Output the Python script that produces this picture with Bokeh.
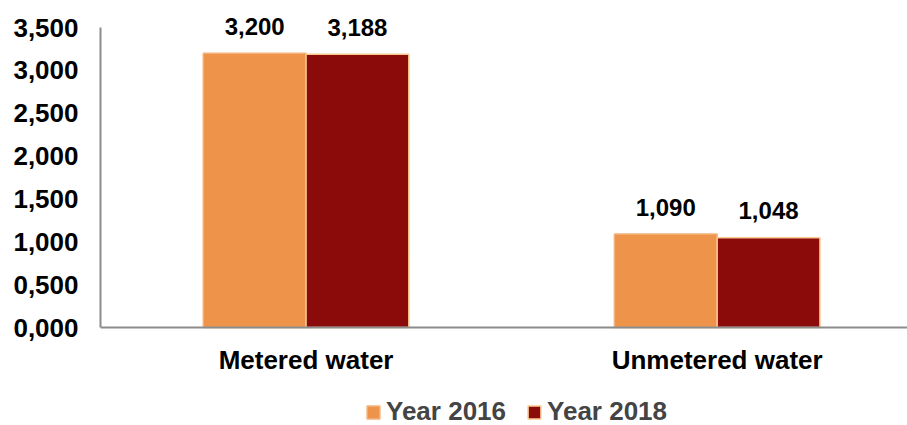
from bokeh.plotting import figure
from bokeh.models import Range1d, FixedTicker, CustomJSTickFormatter, ColumnDataSource, Legend, LegendItem, Span
from bokeh.core.properties import value
from bokeh.embed import file_html
from bokeh.resources import INLINE

categories = ["Metered water", "Unmetered water"]
series_names = ["Year 2016", "Year 2018"]
values_2016 = [3.200, 1.090]
values_2018 = [3.188, 1.048]
y_ticks = [0, 0.5, 1.0, 1.5, 2.0, 2.5, 3.0, 3.5]

FONT = "Liberation Sans"
COL_2016 = "#EE934A"
COL_2018 = "#8B0A0A"
AXIS_COL = "#8c8c8c"

centers = [i + 0.5 for i in range(len(categories))]
bar_w = 0.25

def fmt(v):
    return f"{v:.3f}".replace(".", ",")

src16 = ColumnDataSource(dict(x=[c - bar_w / 2 for c in centers], top=values_2016,
                              lab=[fmt(v) for v in values_2016]))
src18 = ColumnDataSource(dict(x=[c + bar_w / 2 for c in centers], top=values_2018,
                              lab=[fmt(v) for v in values_2018]))
src_cat = ColumnDataSource(dict(x=centers, y=[0] * len(centers), name=categories))

# frame spans image y 10..425; 0..3.5 occupies y 327..27
px_per_unit = 300 / 3.5
y_top = 3.5 + 17 / px_per_unit
y_bottom = -98 / px_per_unit

p = figure(width=907, height=425, x_range=Range1d(0, 1.963), y_range=Range1d(y_bottom, y_top),
           output_backend="svg", toolbar_location=None,
           min_border_left=100, min_border_right=0, min_border_top=10, min_border_bottom=0)
p.outline_line_color = None
p.xgrid.visible = False
p.ygrid.visible = False
p.xaxis.visible = False
p.background_fill_color = "white"

r16 = p.vbar(x="x", top="top", width=bar_w, source=src16, fill_color=COL_2016,
             line_color="#F3B27A", line_width=1.5)
r18 = p.vbar(x="x", top="top", width=bar_w, source=src18, fill_color=COL_2018,
             line_color="#F7C98F", line_width=1.5)

p.add_layout(Span(location=0, dimension="width", line_color=AXIS_COL, line_width=2))

for s in (src16, src18):
    p.text(x="x", y="top", text="lab", source=s, text_align="center", text_baseline="middle",
           y_offset=-27, text_font=value(FONT), text_font_style="bold", text_font_size="24px",
           text_color="black")

p.text(x="x", y="y", text="name", source=src_cat, text_align="center", text_baseline="middle",
       y_offset=32, text_font=value(FONT), text_font_style="bold", text_font_size="26px",
       text_color="black")

ax = p.yaxis[0]
ax.bounds = (0, 3.5)
ax.axis_line_color = AXIS_COL
ax.axis_line_width = 2
ax.major_tick_line_color = None
ax.minor_tick_line_color = None
ax.major_tick_out = 0
ax.major_tick_in = 0
ax.major_label_text_font = FONT
ax.major_label_text_font_style = "bold"
ax.major_label_text_font_size = "26px"
ax.major_label_text_color = "black"
ax.ticker = FixedTicker(ticks=y_ticks)
ax.formatter = CustomJSTickFormatter(code="return tick.toFixed(3).replace('.', ',');")
ax.major_label_standoff = 22

legend = Legend(items=[LegendItem(label=series_names[0], renderers=[r16]),
                       LegendItem(label=series_names[1], renderers=[r18])],
                location=(265, -2), orientation="horizontal",
                label_text_font=FONT, label_text_font_style="bold", label_text_font_size="26px",
                label_text_baseline="middle",
                glyph_width=16, glyph_height=16, label_standoff=5, spacing=20,
                padding=0, margin=0, border_line_color=None, background_fill_alpha=0)
p.add_layout(legend, "center")

open("out.html", "w").write(file_html(p, INLINE))
